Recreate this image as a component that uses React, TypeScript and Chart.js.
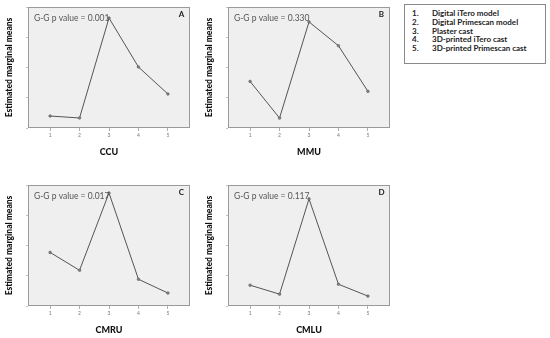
import React, { useEffect, useRef } from "react";
import { Chart, registerables } from "chart.js";

Chart.register(...registerables);

// ---- data ----
const categories = [1, 2, 3, 4, 5];
const ccuMeans = [9.9, 8.3, 90.9, 50.4, 28.1];
const mmuMeans = [38.5, 8.2, 87.7, 68.0, 30.3];
const cmruMeans = [44.3, 29.5, 93.4, 22.1, 10.7];
const cmluMeans = [17.2, 9.8, 88.5, 18.0, 8.2];
const panelLetters = ["A", "B", "C", "D"];
const pValues = ["0.001", "0.330", "0.017", "0.117"];
const axisTitles = ["CCU", "MMU", "CMRU", "CMLU"];
const yTitle = "Estimated marginal means";
const legendItems = [
  "Digital iTero model",
  "Digital Primescan model",
  "Plaster cast",
  "3D-printed iTero cast",
  "3D-printed Primescan cast",
];

const seriesList = [ccuMeans, mmuMeans, cmruMeans, cmluMeans];

const FONT = "Lato, 'Open Sans', sans-serif";

type PanelProps = {
  values: number[];
  letter: string;
  pValue: string;
  xTitle: string;
  left: number;
  top: number;
};

function Panel({ values, letter, pValue, xTitle, left, top }: PanelProps) {
  const ref = useRef<HTMLCanvasElement | null>(null);
  useEffect(() => {
    if (!ref.current) return;
    const annot = {
      id: "panelDecor",
      beforeDraw(chart: any) {
        const { ctx, chartArea } = chart;
        ctx.save();
        ctx.fillStyle = "#efefef";
        ctx.fillRect(chartArea.left, chartArea.top, chartArea.right - chartArea.left, chartArea.bottom - chartArea.top);
        ctx.restore();
      },
      afterDraw(chart: any) {
        const { ctx, chartArea } = chart;
        ctx.save();
        ctx.strokeStyle = "#9a9a9a";
        ctx.lineWidth = 1;
        ctx.strokeRect(chartArea.left + 0.5, chartArea.top + 0.5, chartArea.right - chartArea.left - 1, chartArea.bottom - chartArea.top - 1);
        ctx.fillStyle = "#555";
        ctx.font = `8.5px ${FONT}`;
        ctx.textBaseline = "middle";
        ctx.textAlign = "left";
        ctx.fillText(`G-G p value = ${pValue}`, chartArea.left + 6, chartArea.top + 11);
        ctx.fillStyle = "#222";
        ctx.font = `bold 8px ${FONT}`;
        ctx.textAlign = "center";
        ctx.fillText(letter, chartArea.right - 8.5, chartArea.top + 7.5);
        ctx.restore();
      },
    };
    const chart = new Chart(ref.current, {
      type: "line",
      data: {
        datasets: [
          {
            data: categories.map((c, i) => ({ x: c, y: values[i] })),
            borderColor: "#555",
            borderWidth: 1,
            pointRadius: 1.3,
            pointBackgroundColor: "#888",
            pointBorderColor: "#555",
            pointBorderWidth: 0.6,
            tension: 0,
          },
        ],
      },
      options: {
        animation: false,
        responsive: false,
        maintainAspectRatio: false,
        events: [],
        layout: { padding: { top: 7, right: 10, left: 0, bottom: 0 } },
        plugins: { legend: { display: false }, tooltip: { enabled: false } },
        scales: {
          x: {
            type: "linear",
            min: 0.25,
            max: 5.75,
            afterBuildTicks: (axis: any) => {
              axis.ticks = categories.map((c) => ({ value: c }));
            },
            afterFit: (s: any) => {
              s.height = 32;
            },
            grid: { drawOnChartArea: false, drawTicks: true, tickLength: 3, color: "#b0b0b0" },
            border: { display: false },
            ticks: {
              color: "#777",
              font: { size: 5, family: FONT },
              padding: 1,
              maxRotation: 0,
              callback: (v: any) => String(v),
            },
            title: {
              display: true,
              text: xTitle,
              color: "#111",
              font: { size: 9, weight: "900", family: FONT },
              padding: { top: 0, bottom: 3 },
            },
          },
          y: {
            min: 0,
            max: 100,
            afterFit: (s: any) => {
              s.width = 28;
            },
            grid: { drawOnChartArea: false, drawTicks: true, tickLength: 2, color: "#c0c0c0" },
            border: { display: false },
            ticks: { stepSize: 25, display: false },
            title: {
              display: true,
              text: yTitle,
              color: "#111",
              font: { size: 8.5, weight: "900", family: FONT },
              padding: { top: 4, bottom: 0 },
            },
          },
        },
      },
      plugins: [annot],
    } as any);
    return () => chart.destroy();
  }, [values, letter, pValue, xTitle]);
  return (
    <div style={{ position: "absolute", left, top, width: 200, height: 160 }}>
      <canvas ref={ref} width={200} height={160} style={{ width: 200, height: 160, display: "block" }} />
    </div>
  );
}

const panelPos = [
  { left: 0, top: 0 },
  { left: 200, top: 0 },
  { left: 0, top: 178 },
  { left: 200, top: 178 },
];

export default function App() {
  return (
    <div
      style={{
        position: "absolute",
        left: 0,
        top: 0,
        width: 550,
        height: 338,
        overflow: "hidden",
        background: "#fff",
      }}
    >
      {seriesList.map((vals, i) => (
        <Panel
          key={i}
          values={vals}
          letter={panelLetters[i]}
          pValue={pValues[i]}
          xTitle={axisTitles[i]}
          left={panelPos[i].left}
          top={panelPos[i].top}
        />
      ))}
      <div
        style={{
          position: "absolute",
          left: 404,
          top: 4,
          width: 142,
          height: 60,
          border: "1px solid #8a8a8a",
          boxSizing: "border-box",
          fontFamily: FONT,
          fontWeight: "bold",
          fontSize: 8,
          color: "#222",
        }}
      >
        {legendItems.map((t, i) => (
          <React.Fragment key={i}>
            <div style={{ position: "absolute", left: 7, top: 4 + i * 8.8, lineHeight: "9px", whiteSpace: "nowrap" }}>
              {`${i + 1}.`}
            </div>
            <div style={{ position: "absolute", left: 27, top: 4 + i * 8.8, lineHeight: "9px", whiteSpace: "nowrap" }}>
              {t}
            </div>
          </React.Fragment>
        ))}
      </div>
    </div>
  );
}
